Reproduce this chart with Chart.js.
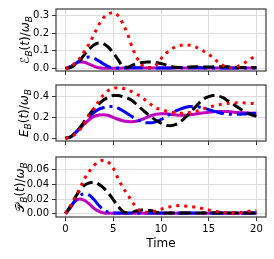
<!DOCTYPE html>
<html>
<head>
<meta charset="utf-8">
<script src="https://cdn.jsdelivr.net/npm/chart.js@4"></script>
<style>
  html, body { margin: 0; padding: 0; background: #fff; }
  #wrap { position: relative; width: 274px; height: 259px; overflow: hidden; }
  canvas { position: absolute; left: 0; }
</style>
</head>
<body>
<div id="wrap">
  <canvas id="c1" width="274" height="80" style="top:0px"></canvas>
  <canvas id="c2" width="274" height="74" style="top:76px"></canvas>
  <canvas id="c3" width="274" height="111" style="top:148px"></canvas>
</div>
<script>
// time axis (shared)
const timeVals = [0,0.5,1,1.5,2,2.5,3,3.5,4,4.5,5,5.5,6,6.5,7,7.5,8,8.5,9,9.5,10,
  10.5,11,11.5,12,12.5,13,13.5,14,14.5,15,15.5,16,16.5,17,17.5,18,18.5,19,19.5,20];
const xTickVals = [0, 5, 10, 15, 20];

// top panel: script-E_B(t)/omega_B
const energyRed = [0,0.008,0.03,0.058,0.1,0.143,0.195,0.25,0.29,0.31,0.318,0.3,0.255,0.195,0.118,0.058,0.02,0.005,0.005,0.02,0.055,
  0.085,0.107,0.122,0.13,0.134,0.132,0.125,0.112,0.097,0.08,0.058,0.035,0.016,0.006,0.003,0.01,0.023,0.04,0.058,0.07];
const energyBlack = [0,0.005,0.02,0.045,0.08,0.112,0.135,0.145,0.14,0.12,0.088,0.05,0.012,0.006,0.018,0.028,0.034,0.037,0.037,0.034,0.028,
  0.02,0.012,0.007,0.005,0.006,0.008,0.009,0.009,0.008,0.008,0.009,0.01,0.01,0.009,0.007,0.005,0.005,0.005,0.005,0.005];
const energyBlue = [0,0.008,0.025,0.045,0.06,0.065,0.058,0.042,0.025,0.01,0.003,0.002,0.003,0.003,0.004,0.004,0.004,0.003,0.003,0.003,0.003,
  0.003,0.003,0.004,0.004,0.004,0.004,0.004,0.004,0.003,0.003,0.003,0.003,0.003,0.003,0.003,0.003,0.003,0.003,0.003,0.003];
const energyMagenta = [0,0.01,0.028,0.037,0.035,0.023,0.012,0.004,0.001,0.001,0.001,0.001,0.002,0.002,0.002,0.002,0.002,0.002,0.002,0.002,0.002,
  0.002,0.002,0.002,0.002,0.002,0.002,0.002,0.002,0.002,0.002,0.002,0.002,0.002,0.002,0.002,0.002,0.002,0.002,0.002,0.002];

// middle panel: E_B(t)/omega_B
const eRed = [0,0.01,0.04,0.085,0.15,0.225,0.29,0.36,0.42,0.46,0.48,0.485,0.48,0.465,0.445,0.42,0.395,0.355,0.32,0.29,0.275,
  0.262,0.252,0.245,0.24,0.242,0.247,0.255,0.268,0.285,0.3,0.31,0.32,0.328,0.335,0.338,0.34,0.34,0.338,0.335,0.33];
const eBlack = [0,0.012,0.05,0.1,0.165,0.23,0.285,0.33,0.37,0.395,0.41,0.41,0.4,0.385,0.36,0.32,0.28,0.24,0.205,0.17,0.145,
  0.125,0.12,0.13,0.155,0.195,0.24,0.29,0.34,0.38,0.4,0.41,0.405,0.39,0.36,0.33,0.3,0.27,0.245,0.225,0.21];
const eBlue = [0,0.012,0.05,0.1,0.16,0.21,0.25,0.28,0.295,0.305,0.305,0.29,0.265,0.235,0.205,0.18,0.16,0.148,0.148,0.16,0.18,
  0.205,0.235,0.26,0.28,0.295,0.305,0.305,0.3,0.29,0.275,0.26,0.248,0.238,0.232,0.23,0.23,0.232,0.235,0.238,0.24];
const eMagenta = [0,0.012,0.045,0.09,0.14,0.18,0.21,0.223,0.225,0.218,0.2,0.182,0.168,0.16,0.158,0.165,0.18,0.2,0.218,0.23,0.235,
  0.235,0.23,0.225,0.222,0.222,0.225,0.23,0.238,0.245,0.25,0.255,0.258,0.258,0.256,0.252,0.248,0.245,0.242,0.24,0.24];

// bottom panel: P_B(t)/omega_B
const pRed = [0,0.01,0.021,0.035,0.048,0.058,0.066,0.071,0.073,0.07,0.062,0.048,0.036,0.026,0.016,0.007,0.003,0.002,0.002,0.004,0.006,
  0.008,0.0095,0.0105,0.011,0.0105,0.0098,0.009,0.008,0.0065,0.005,0.0035,0.0025,0.0015,0.001,0.001,0.0015,0.002,0.003,0.0037,0.004];
const pBlack = [0,0.01,0.022,0.032,0.039,0.042,0.043,0.04,0.035,0.028,0.019,0.01,0.003,0.001,0.002,0.004,0.005,0.0048,0.004,0.002,0.001,
  0.001,0.001,0.001,0.001,0.001,0.001,0.001,0.001,0.001,0.001,0.001,0.001,0.001,0.001,0.001,0.001,0.001,0.001,0.001,0.001];
const pBlue = [0,0.009,0.018,0.025,0.027,0.025,0.019,0.011,0.005,0.002,0.001,0.001,0.001,0.001,0.001,0.001,0.001,0.001,0.001,0.001,0.001,
  0.001,0.001,0.001,0.001,0.001,0.001,0.001,0.001,0.001,0.001,0.001,0.001,0.001,0.001,0.001,0.001,0.001,0.001,0.001,0.001];
const pMagenta = [0,0.008,0.017,0.02,0.018,0.013,0.007,0.003,0.001,0.0005,0.0005,0.0005,0.0005,0.0005,0.0005,0.0005,0.0005,0.0005,0.0005,0.0005,0.0005,
  0.0005,0.0005,0.0005,0.0005,0.0005,0.0005,0.0005,0.0005,0.0005,0.0005,0.0005,0.0005,0.0005,0.0005,0.0005,0.0005,0.0005,0.0005,0.0005,0.0005];

const yTicksTop = [0, 0.1, 0.2, 0.3];
const yTicksMid = [0, 0.2, 0.4];
const yTicksBot = [0, 0.02, 0.04, 0.06];

const FONT = "'DejaVu Sans', sans-serif";

function pts(ys) {
  return timeVals.map((t, i) => ({ x: t, y: ys[i] }));
}

// matplotlib-like line styles (lw 3)
function makeSets(red, black, blue, magenta) {
  return [
    { data: pts(red), borderColor: '#ff0000', borderWidth: 3, borderDash: [3, 5], borderCapStyle: 'butt' },
    { data: pts(black), borderColor: '#000000', borderWidth: 3, borderDash: [11, 5], borderCapStyle: 'butt' },
    { data: pts(blue), borderColor: '#0000ff', borderWidth: 3, borderDash: [19, 5, 3, 5], borderCapStyle: 'butt' },
    { data: pts(magenta), borderColor: '#bf00bf', borderWidth: 3 }
  ];
}

// frame around plot area + rotated y label with sub-scripts
const framePlugin = {
  id: 'frame',
  afterDraw(chart, args, opts) {
    const ctx = chart.ctx, a = chart.chartArea;
    ctx.save();
    ctx.strokeStyle = '#3a3a3a';
    ctx.lineWidth = 1.2;
    ctx.strokeRect(a.left, a.top, a.right - a.left, a.bottom - a.top);

    // label parts: [text, italic?, subscript?]
    const parts = opts.parts;
    const big = 12, small = 9;
    let w = 0;
    const fonts = parts.map(p => (p[1] ? 'italic ' : '') + (p[2] ? small : big) + 'px ' + (p[3] || FONT));
    parts.forEach((p, i) => { ctx.font = fonts[i]; w += ctx.measureText(p[0]).width; });
    const cy = (a.top + a.bottom) / 2;
    ctx.translate(opts.x, cy);
    ctx.rotate(-Math.PI / 2);
    ctx.fillStyle = '#000';
    ctx.textBaseline = 'alphabetic';
    let x = -w / 2;
    parts.forEach((p, i) => {
      ctx.font = fonts[i];
      ctx.fillText(p[0], x, p[2] ? 3 : 0);
      x += ctx.measureText(p[0]).width;
    });
    ctx.restore();
  }
};

function makeChart(id, sets, yMin, yMax, yTicks, digits, padTop, xAxisH, bottom, label) {
  return new Chart(document.getElementById(id).getContext('2d'), {
    type: 'line',
    data: { datasets: sets },
    options: {
      responsive: false,
      animation: false,
      layout: { padding: { left: 0, right: 8, top: padTop, bottom: 0 } },
      elements: { point: { radius: 0 }, line: { tension: 0, cubicInterpolationMode: 'monotone', fill: false } },
      plugins: { legend: { display: false }, tooltip: { enabled: false }, frame: label },
      scales: {
        x: {
          type: 'linear', min: -1, max: 21,
          afterBuildTicks: s => { s.ticks = xTickVals.map(v => ({ value: v })); },
          afterFit: s => { s.height = xAxisH; },
          grid: { color: '#dddddd', lineWidth: 1, tickLength: 4, tickColor: '#333', tickWidth: 1 },
          border: { display: false },
          ticks: { display: bottom, color: '#000', font: { family: FONT, size: 10 }, padding: 2, maxRotation: 0 },
          title: { display: bottom, text: 'Time', color: '#000', font: { family: FONT, size: 12 }, padding: { top: 0, bottom: 8 } }
        },
        y: {
          min: yMin, max: yMax,
          afterBuildTicks: s => { s.ticks = yTicks.map(v => ({ value: v })); },
          afterFit: s => { s.width = 56; },
          grid: { color: '#dddddd', lineWidth: 1, tickLength: 4, tickColor: '#333', tickWidth: 1 },
          border: { display: false },
          ticks: { color: '#000', font: { family: FONT, size: 10 }, padding: 3, callback: v => Number(v).toFixed(digits) }
        }
      }
    },
    plugins: [framePlugin]
  });
}

makeChart('c1', makeSets(energyRed, energyBlack, energyBlue, energyMagenta), -0.0147, 0.338, yTicksTop, 1, 8, 7, false,
  { x: 29, parts: [['\u2130', true, false], ['B', true, true], ['(', false, false], ['t', true, false], [')/', false, false], ['\u03c9', true, false], ['B', true, true]] });
makeChart('c2', makeSets(eRed, eBlack, eBlue, eMagenta), -0.027, 0.512, yTicksMid, 1, 3, 5, false,
  { x: 28, parts: [['E', true, false], ['B', true, true], ['(', false, false], ['t', true, false], [')/', false, false], ['\u03c9', true, false], ['B', true, true]] });
makeChart('c3', makeSets(pRed, pBlack, pBlue, pMagenta), -0.0046, 0.0774, yTicksBot, 2, 3, 42, true,
  { x: 24, parts: [['\ud835\udcab', false, false], ['B', true, true], ['(', false, false], ['t', true, false], [')/', false, false], ['\u03c9', true, false], ['B', true, true]] });
</script>
</body>
</html>
